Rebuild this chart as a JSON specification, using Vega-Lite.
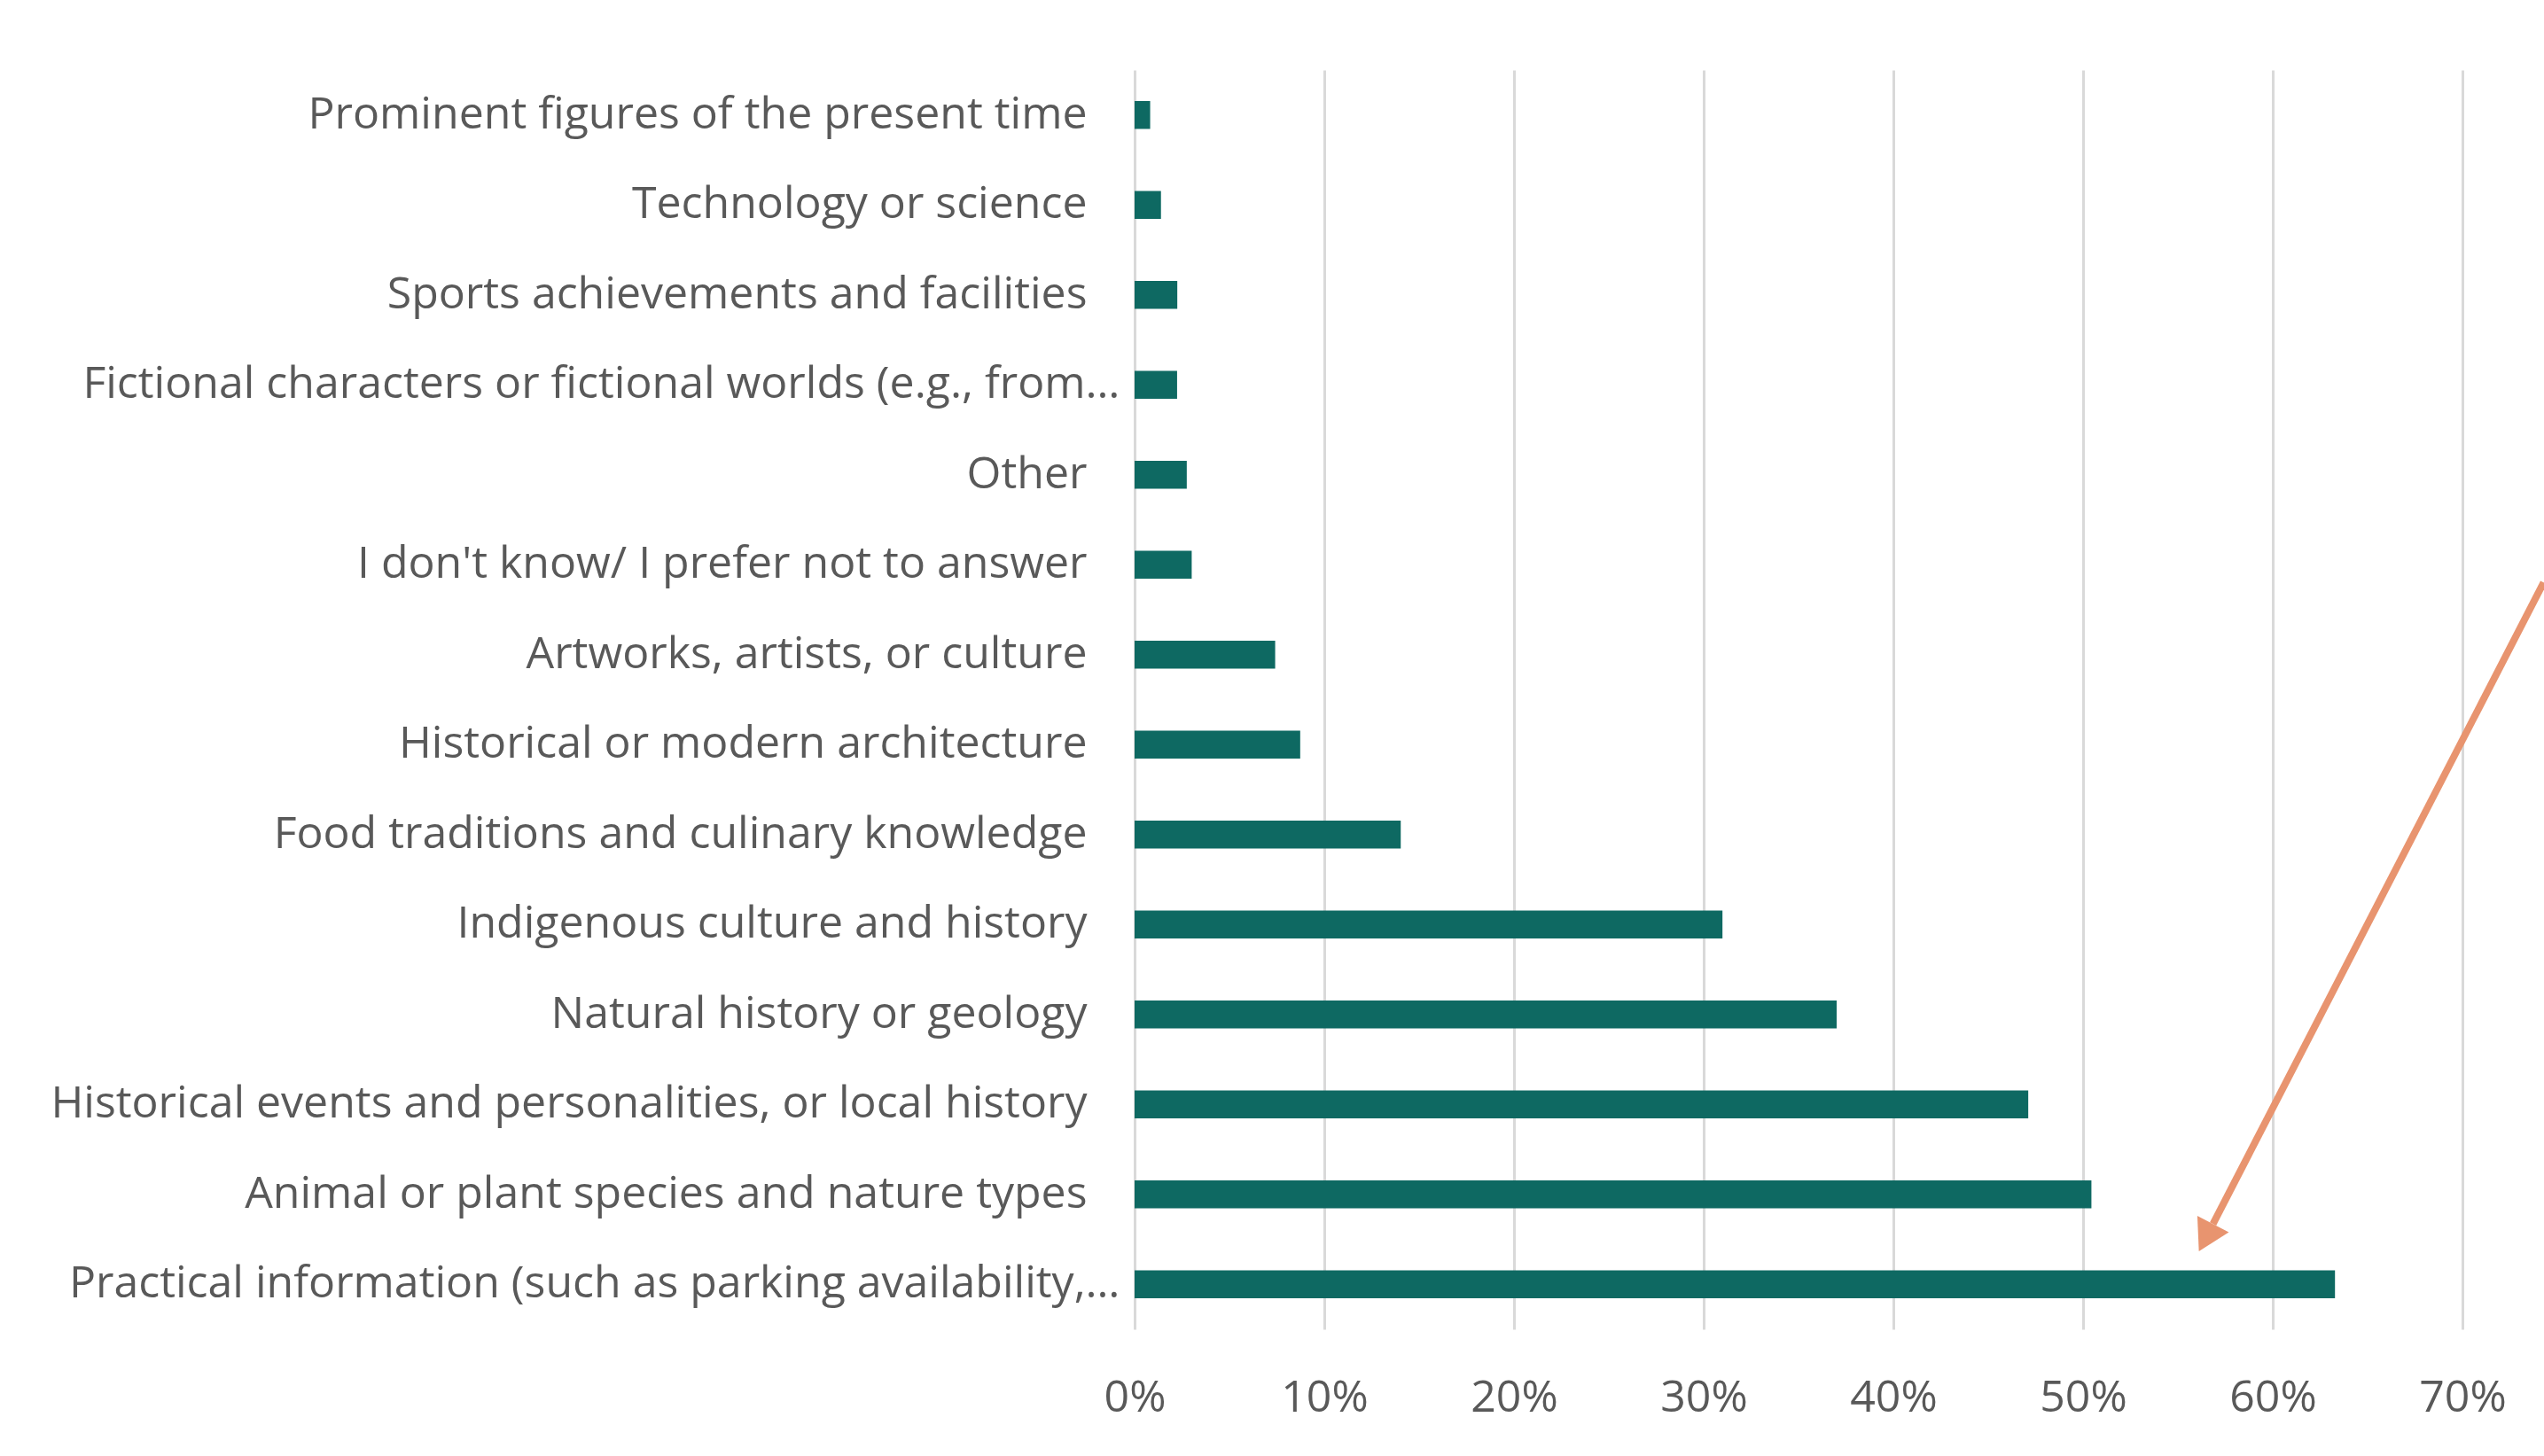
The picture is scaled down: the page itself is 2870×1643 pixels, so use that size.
{
  "$schema": "https://vega.github.io/schema/vega-lite/v6.json",
  "width": 1498,
  "height": 1421,
  "autosize": {"type": "none"},
  "padding": {"left": 1280, "top": 79, "right": 92, "bottom": 143},
  "background": "white",
  "config": {
    "view": {"stroke": null},
    "font": "Open Sans"
  },
  "datasets": {
    "bars": [
      {"category": "Prominent figures of the present time", "share": 0.0082},
      {"category": "Technology or science", "share": 0.0139},
      {"category": "Sports achievements and facilities", "share": 0.0225},
      {"category": "Fictional characters or fictional worlds (e.g., from…", "share": 0.0224},
      {"category": "Other", "share": 0.0275},
      {"category": "I don't know/ I prefer not to answer", "share": 0.0301},
      {"category": "Artworks, artists, or culture", "share": 0.0741},
      {"category": "Historical or modern architecture", "share": 0.0873},
      {"category": "Food traditions and culinary knowledge", "share": 0.1403},
      {"category": "Indigenous culture and history", "share": 0.3099},
      {"category": "Natural history or geology", "share": 0.3701},
      {"category": "Historical events and personalities, or local history", "share": 0.4711},
      {"category": "Animal or plant species and nature types", "share": 0.5044},
      {"category": "Practical information (such as parking availability,…", "share": 0.6328}
    ],
    "arrowLine": [
      {"share": 0.7428, "pos": 59.3, "order": 0},
      {"share": 0.5685, "pos": 8.37, "order": 1}
    ],
    "arrowHead": [
      {"share": 0.5648, "pos": 7.28}
    ]
  },
  "layer": [
    {
      "data": {"name": "bars"},
      "mark": {"type": "bar", "color": "#0E6962"},
      "encoding": {
        "y": {
          "field": "category",
          "type": "nominal",
          "sort": null,
          "scale": {"paddingInner": 0.69, "paddingOuter": 0.345},
          "axis": {
            "title": null,
            "domain": false,
            "ticks": false,
            "tickSize": 0,
            "labelPadding": {"condition": {"test": "indexof(datum.value, '…') >= 0", "value": 17}, "value": 54},
            "labelFontSize": 50,
            "labelColor": "#595959",
            "labelLimit": 1300,
            "grid": false
          }
        },
        "x": {
          "field": "share",
          "type": "quantitative",
          "scale": {"domain": [0, 0.7], "nice": false},
          "axis": {
            "title": null,
            "format": ".0%",
            "values": [0, 0.1, 0.2, 0.3, 0.4, 0.5, 0.6, 0.7],
            "domain": false,
            "ticks": false,
            "tickSize": 0,
            "labelFlush": false,
            "labelPadding": 52,
            "labelFontSize": 50,
            "labelColor": "#595959",
            "grid": true,
            "gridColor": "#D9D9D9",
            "gridWidth": 3
          }
        }
      }
    },
    {
      "data": {"name": "arrowLine"},
      "mark": {"type": "line", "color": "#E8946F", "strokeWidth": 8},
      "encoding": {
        "x": {"field": "share", "type": "quantitative"},
        "y": {"field": "pos", "type": "quantitative", "scale": {"domain": [0, 100], "nice": false}, "axis": null},
        "order": {"field": "order"}
      }
    },
    {
      "data": {"name": "arrowHead"},
      "mark": {"type": "point", "shape": "triangle-down", "filled": true, "color": "#E8946F", "opacity": 1, "size": 1600, "angle": 27.5},
      "encoding": {
        "x": {"field": "share", "type": "quantitative"},
        "y": {"field": "pos", "type": "quantitative", "scale": {"domain": [0, 100], "nice": false}, "axis": null}
      }
    }
  ],
  "resolve": {"scale": {"y": "independent"}, "axis": {"y": "independent"}}
}
